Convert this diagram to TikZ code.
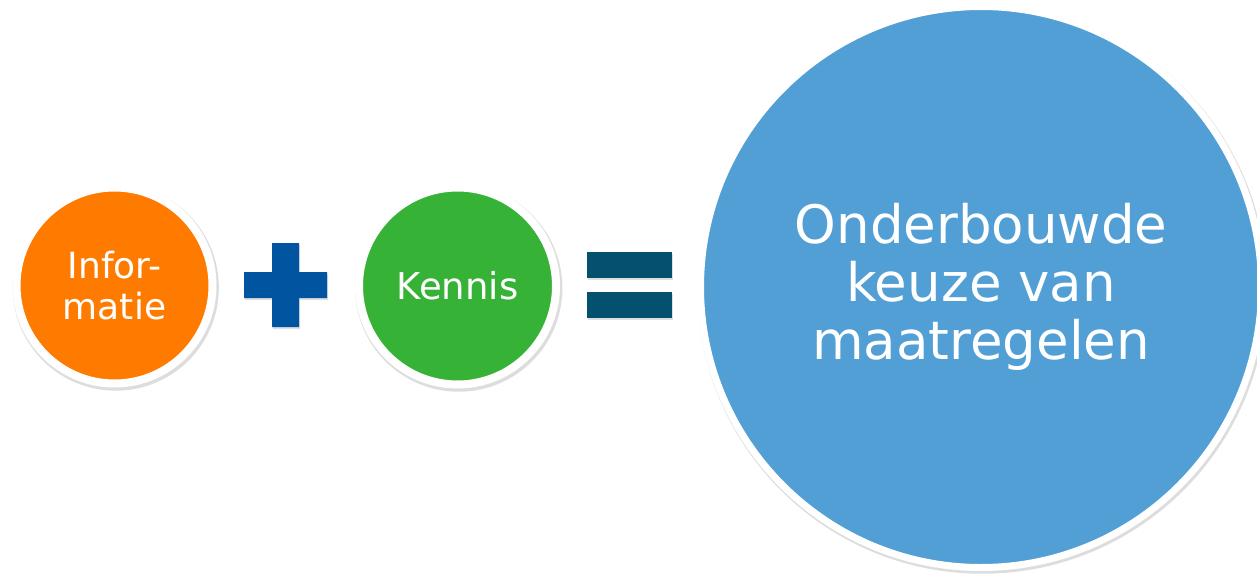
\documentclass[tikz,border=0pt]{standalone}
\usepackage{fontspec}
\setmainfont{DejaVu Sans}
\usetikzlibrary{shadows}
\definecolor{infoorange}{HTML}{FF7B00}
\definecolor{kennisgreen}{HTML}{36B336}
\definecolor{resultblue}{HTML}{529FD6}
\definecolor{plusblue}{HTML}{0054A0}
\definecolor{eqblue}{HTML}{03506F}
\tikzset{
  disc/.style={circle, draw=white, line width=8pt, text=white, align=center, inner sep=0pt},
  discshadow/.style={drop shadow={opacity=0.22, shadow scale=#1, shadow xshift=1.2pt, shadow yshift=-2pt, fill=black!60}},
  opbar/.style={drop shadow={opacity=0.25, shadow xshift=1pt, shadow yshift=-2pt}},
}
\begin{document}
\begin{tikzpicture}[x=1pt,y=-1pt]
\useasboundingbox (0,0) rectangle (1257,575);
\fill[white] (0,0) rectangle (1257,575);
\node[disc, discshadow=1.052, fill=infoorange, minimum size=196pt, font=\fontsize{36}{41}\selectfont] (info) at (114.5,285.5) {Infor-\\matie};
\node[disc, discshadow=1.052, fill=kennisgreen, minimum size=197pt, font=\fontsize{37}{40}\selectfont] (kennis) at (457.5,286) {Kennis};
\node[disc, discshadow=1.015, fill=resultblue, line width=7pt, minimum size=561pt, font=\fontsize{53}{58}\selectfont] (result) at (981,287) {Onderbouwde\\keuze van\\maatregelen};
% plus sign
\path[fill=plusblue, opbar] (272,243) -- (299,243) -- (299,272) -- (327,272) -- (327,298) -- (299,298) -- (299,327) -- (272,327) -- (272,298) -- (244,298) -- (244,272) -- (272,272) -- cycle;
% equals sign
\path[fill=eqblue, opbar] (587,252) rectangle (672,278);
\path[fill=eqblue, opbar] (587,292) rectangle (672,318);
\end{tikzpicture}
\end{document}
